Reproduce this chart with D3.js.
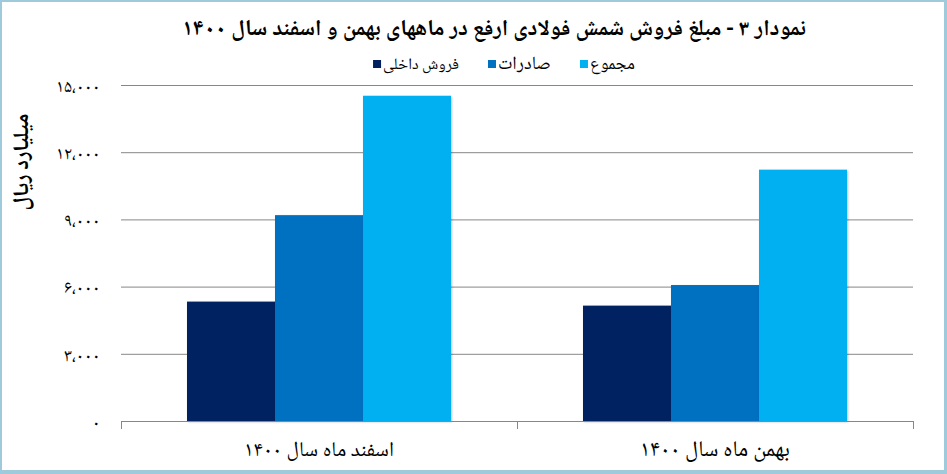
<!DOCTYPE html>
<html>
<head>
<meta charset="utf-8">
<script src="https://cdn.jsdelivr.net/npm/d3@7"></script>
<style>
  html, body { margin: 0; padding: 0; background: #fff; }
  svg { display: block; }
  text { font-family: "Noto Naskh Arabic", "Noto Sans Arabic", "DejaVu Sans", sans-serif; fill: #000; }
</style>
</head>
<body>
<div id="chart"></div>
<script>
// ---- data ----
const categories = ["بهمن ماه سال ۱۴۰۰", "اسفند ماه سال ۱۴۰۰"];
const seriesNames = ["فروش داخلی", "صادرات", "مجموع"];
const domesticSales = [5150, 5330];
const exportSales = [6070, 9190];
const totalSales = [11220, 14520];
const yTicks = [0, 3000, 6000, 9000, 12000, 15000];
const yTickLabels = ["۰", "۳،۰۰۰", "۶،۰۰۰", "۹،۰۰۰", "۱۲،۰۰۰", "۱۵،۰۰۰"];
const titleText = "نمودار ۳ - مبلغ فروش شمش فولادی ارفع در ماههای بهمن و اسفند سال ۱۴۰۰";
const yTitleText = "میلیارد ریال";
const colors = ["#002060", "#0070C0", "#00B0F0"];

const seriesValues = [domesticSales, exportSales, totalSales];

const W = 947, H = 474;
const svg = d3.select("#chart").append("svg").attr("width", W).attr("height", H);

// frame
svg.append("rect").attr("x", 0).attr("y", 0).attr("width", W).attr("height", H).attr("fill", "#9fcadb");
svg.append("rect").attr("x", 2).attr("y", 2).attr("width", W - 5).attr("height", H - 6).attr("fill", "#fff");

const defs = svg.append("defs");
const f = defs.append("filter").attr("id", "sh").attr("x", "-10%").attr("y", "-10%").attr("width", "130%").attr("height", "130%");
f.append("feDropShadow").attr("dx", 1).attr("dy", 1).attr("stdDeviation", 1.2).attr("flood-color", "#000").attr("flood-opacity", 0.25);

const plot = { left: 121, right: 913, top: 85, bottom: 421 };

// scales (axis reversed: RTL chart)
const x0 = d3.scaleBand().domain(categories).range([plot.right, plot.left]).paddingInner(0).paddingOuter(0);
const x1 = d3.scaleBand().domain(d3.range(seriesNames.length)).range([0, x0.bandwidth()]).paddingInner(0).paddingOuter(0.75);
const y = d3.scaleLinear().domain([0, 15000]).range([plot.bottom, plot.top]);

// gridlines
const yAxis = d3.axisLeft(y).tickValues(yTicks).tickSize(-(plot.right - plot.left)).tickFormat((d, i) => yTickLabels[i]).tickPadding(21);
const gy = svg.append("g").attr("transform", `translate(${plot.left},0)`).call(yAxis);
gy.attr("font-family", null).attr("font-size", null);
gy.select(".domain").remove();
gy.selectAll(".tick line").attr("stroke", "#878787").attr("stroke-width", 1);
const tickTexts = gy.selectAll(".tick text").attr("font-size", 15).attr("letter-spacing", 0).attr("fill", "#222").attr("dy", "0.35em");
// scale all tick labels so the widest matches the reference width
let maxW = 0;
tickTexts.each(function() { maxW = Math.max(maxW, this.getComputedTextLength()); });
const tfs = Math.min(22, 15 * 44 / maxW);
tickTexts.attr("font-size", tfs.toFixed(2)).attr("letter-spacing", 2.2);

// bars
const groups = svg.append("g").selectAll("g").data(categories).join("g")
  .attr("transform", d => `translate(${x0(d)},0)`);
groups.selectAll("rect").data((c, ci) => seriesValues.map((vals, si) => ({ si, v: vals[ci] })))
  .join("rect")
  .attr("x", d => x1(d.si))
  .attr("width", x1.bandwidth())
  .attr("y", d => y(d.v))
  .attr("height", d => y(0) - y(d.v))
  .attr("fill", d => colors[d.si])
  .attr("filter", "url(#sh)");

// x axis
const xAxisLine = svg.append("g");
xAxisLine.append("line").attr("x1", plot.left).attr("x2", plot.right).attr("y1", y(0) + 0.5).attr("y2", y(0) + 0.5).attr("stroke", "#878787");
xAxisLine.selectAll("line.tk").data(d3.range(categories.length + 1)).join("line").attr("class", "tk")
  .attr("x1", i => plot.left + i * x0.bandwidth() + 0.5).attr("x2", i => plot.left + i * x0.bandwidth() + 0.5)
  .attr("y1", y(0)).attr("y2", y(0) + 8).attr("stroke", "#878787");

function fit(sel, target) {
  const n = sel.node();
  const fs = parseFloat(sel.attr("font-size"));
  const w = n.getComputedTextLength();
  sel.attr("font-size", (fs * target / w).toFixed(2));
}

svg.selectAll("text.xl").data(categories).join("text").attr("class", "xl")
  .attr("x", d => x0(d) + x0.bandwidth() / 2).attr("y", 456)
  .attr("text-anchor", "middle").attr("direction", "rtl").attr("font-size", 14).attr("fill", "#111")
  .text(d => d)
  .each(function() { fit(d3.select(this), 150); });

// title
const t = svg.append("text").attr("x", 494).attr("y", 35).attr("text-anchor", "middle").attr("direction", "rtl")
  .attr("font-size", 20).attr("font-weight", "bold").text(titleText);
fit(t, 624);

// y title
const yt = svg.append("text").attr("transform", "translate(28,162) rotate(-90)").attr("text-anchor", "middle")
  .attr("direction", "rtl").attr("font-size", 16).attr("font-weight", "bold").text(yTitleText);
fit(yt, 97);

// legend
const legendWidths = [76, 53, 45];
const legend = svg.append("g");
const items = legend.selectAll("g").data(seriesNames).join("g");
items.append("rect").attr("width", 8).attr("height", 8).attr("y", 60).attr("fill", (d, i) => colors[i]);
items.append("text").attr("y", 69).attr("font-size", 13).attr("direction", "rtl").attr("text-anchor", "middle").text(d => d)
  .each(function(d, i) { fit(d3.select(this), legendWidths[i]); });
const widths = [];
items.select("text").each(function() { widths.push(this.getComputedTextLength()); });
const gapSw = 2, gapItem = 29;
const total = d3.sum(widths) + widths.length * (8 + gapSw) + (widths.length - 1) * gapItem;
let cx = 504 - total / 2;
items.each(function(d, i) {
  const g = d3.select(this);
  g.select("rect").attr("x", cx);
  g.select("text").attr("x", cx + 8 + gapSw + widths[i] / 2);
  cx += 8 + gapSw + widths[i] + gapItem;
});
</script>
</body>
</html>
